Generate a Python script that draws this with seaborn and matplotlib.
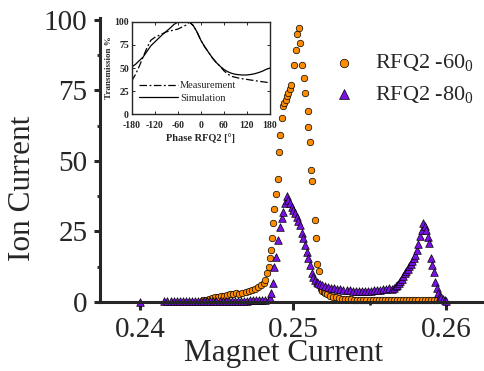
import numpy as np
import pandas as pd
import seaborn as sns
import matplotlib.pyplot as plt
from matplotlib.ticker import MultipleLocator

# RFQ2 -60 scan (orange circles)
mag_60 = [0.2441, 0.2443, 0.2445, 0.2447, 0.2449, 0.2451, 0.2453, 0.2455, 0.2457, 0.2459,
          0.2461, 0.2463, 0.2465, 0.2467, 0.2469, 0.2471, 0.2473, 0.2475, 0.2477, 0.2479,
          0.2481, 0.24819, 0.24828, 0.24841, 0.2485, 0.24856, 0.24861, 0.24867, 0.24878, 0.24889,
          0.2490, 0.24908, 0.24917, 0.24926, 0.24935, 0.24943, 0.24952, 0.24961, 0.24969, 0.24978,
          0.24987, 0.25007, 0.2502, 0.25028, 0.25039, 0.25048, 0.25057, 0.2507, 0.25078, 0.25096,
          0.2510, 0.25109, 0.25118, 0.25127, 0.25142, 0.25153, 0.25159, 0.25172, 0.2518, 0.2519,
          0.2520, 0.2521, 0.2522, 0.2524, 0.2526, 0.2528, 0.2530, 0.2532, 0.2534, 0.2536,
          0.2538, 0.2540, 0.2542, 0.2544, 0.2546, 0.2548, 0.2550, 0.2552, 0.2554, 0.2556,
          0.2558, 0.2560, 0.2562, 0.2564, 0.2566, 0.2568, 0.2570, 0.2572, 0.2574, 0.2576,
          0.2578, 0.2580, 0.2582, 0.2584, 0.2586, 0.2588, 0.2590, 0.2592, 0.2594]
ion_60 = [0.6, 0.8, 1.0, 1.4, 1.7, 1.9, 2.1, 2.3, 2.6, 2.8,
          3.0, 3.2, 2.8, 3.1, 3.4, 3.8, 4.2, 4.6, 5.4, 6.0,
          6.8, 7.8, 10.2, 12.5, 15.5, 18.4, 22.8, 27.9, 32.9, 38.4,
          43.5, 53.0, 59.2, 65.1, 69.3, 70.5, 71.6, 72.8, 74.0, 75.4,
          77.0, 84.0, 89.2, 94.8, 96.9, 91.7, 84.0, 79.2, 74.0, 67.7,
          62.0, 56.5, 46.8, 42.7, 29.1, 22.5, 13.5, 11.1, 4.6, 4.0,
          3.5, 3.1, 2.8, 2.3, 1.9, 1.6, 1.3, 1.1, 1.0, 0.9,
          0.9, 0.8, 0.8, 0.8, 0.8, 0.8, 0.7, 0.8, 0.8, 0.8,
          0.8, 0.7, 0.8, 0.8, 0.8, 0.8, 0.8, 0.8, 0.8, 0.8,
          0.8, 0.8, 0.8, 0.8, 0.8, 0.8, 0.7, 0.7, 0.7]

# RFQ2 -80 scan (purple triangles)
mag_80 = [0.2400,
          0.2416, 0.2418, 0.2420, 0.2422, 0.2424, 0.2426, 0.2428, 0.2430, 0.2432, 0.2434,
          0.2436, 0.2438, 0.2440, 0.2442, 0.2444, 0.2446, 0.2448, 0.2450, 0.2452, 0.2454,
          0.2456, 0.2458, 0.2460, 0.2462, 0.2464, 0.2466, 0.2468, 0.2470, 0.2472, 0.2474,
          0.2476, 0.2478, 0.2480, 0.2482, 0.2484,
          0.2485, 0.24856, 0.24867, 0.24878, 0.24889, 0.24904, 0.24915, 0.24926, 0.24937, 0.24948,
          0.24959, 0.2497, 0.2498, 0.24991, 0.25002, 0.25013, 0.25024, 0.25035, 0.25046, 0.25057,
          0.25067, 0.25078, 0.25089, 0.2510, 0.25111, 0.25122, 0.25133, 0.25144, 0.25155, 0.25166,
          0.25177, 0.2519, 0.2521, 0.2523, 0.2525, 0.2527, 0.2529, 0.2531, 0.2533, 0.2535,
          0.2537, 0.2539, 0.2541, 0.2543, 0.2545, 0.2547, 0.2549, 0.2551, 0.2553, 0.2555,
          0.2557, 0.2559, 0.2561, 0.2563, 0.2565, 0.2566, 0.2567, 0.2568, 0.2569, 0.2570,
          0.2571, 0.2572, 0.2573, 0.2574, 0.2575, 0.2576, 0.2577, 0.2578, 0.2579, 0.2580,
          0.2581, 0.2582, 0.2583, 0.2584, 0.2585, 0.2586, 0.2587, 0.2588, 0.2589, 0.2590,
          0.2591, 0.2592, 0.2593, 0.2594, 0.2595, 0.2596, 0.2597, 0.2598, 0.2599, 0.2600]
ion_80 = [0.0,
          0.4, 0.4, 0.4, 0.4, 0.4, 0.4, 0.4, 0.4, 0.4, 0.4,
          0.4, 0.4, 0.4, 0.4, 0.4, 0.4, 0.4, 0.5, 0.5, 0.5,
          0.5, 0.5, 0.5, 0.5, 0.5, 0.5, 0.5, 0.5, 0.6, 0.6,
          0.6, 0.6, 0.7, 0.8, 1.0,
          1.5, 3.1, 6.9, 12.5, 16.1, 22.0, 26.7, 29.6, 32.0, 35.0,
          37.4, 36.2, 35.0, 33.8, 32.6, 31.4, 30.2, 28.8, 27.3, 24.4,
          22.6, 20.2, 17.8, 15.5, 13.1, 10.2, 8.8, 7.8, 7.2, 6.8,
          6.5, 6.1, 5.6, 5.3, 5.0, 4.8, 4.6, 4.5, 4.3, 4.2,
          4.1, 4.0, 4.0, 4.0, 4.0, 4.0, 4.0, 4.0, 4.1, 4.2,
          4.3, 4.5, 4.7, 5.0, 4.6, 5.0, 5.5, 6.0, 6.8, 7.5,
          8.3, 9.2, 10.2, 11.0, 11.8, 12.6, 13.5, 14.5, 15.6, 16.8,
          18.5, 20.5, 23.2, 25.5, 27.9, 26.8, 25.5, 23.0, 21.0, 15.5,
          13.0, 10.5, 7.2, 5.0, 3.2, 2.2, 1.6, 1.1, 0.8, 0.5]

# inset: transmission vs RFQ2 phase
phase = [-180, -170, -160, -150, -140, -130, -120, -110, -100, -90, -80, -70, -60,
         -50, -40, -30, -20, -10, 0, 10, 20, 30, 40, 50, 60, 70, 80, 90, 100,
         110, 120, 130, 140, 150, 160, 170, 180]
measurement = [36, 43, 52, 62, 72, 80, 83, 85, 87, 89, 90, 91, 92,
               94, 96, 99.5, 96, 89, 80, 73, 67, 61, 56, 52, 47, 43.5, 41, 40, 39,
               38.3, 37.7, 37, 36.5, 35.7, 35.2, 34.6, 34]
simulation = [51, 54, 58, 62, 68, 74, 78, 82, 86, 89.5, 93, 97, 99.5,
              100, 100, 100, 96, 89, 80, 73, 67, 61, 56, 52, 48.5, 46, 44.3, 43.2, 42.7,
              42.4, 42.5, 43, 43.8, 45, 46.5, 48.5, 50]

sns.set_style("ticks")
plt.rcParams["font.family"] = ["Liberation Serif", "DejaVu Serif"]
plt.rcParams["mathtext.fontset"] = "custom"
plt.rcParams["mathtext.rm"] = "Liberation Serif"
plt.rcParams["axes.unicode_minus"] = False

df60 = pd.DataFrame({"mag": mag_60, "ion": ion_60})
df80 = pd.DataFrame({"mag": mag_80, "ion": ion_80})

fig = plt.figure(figsize=(4.84, 3.71), dpi=100)
ax = fig.add_axes([0.2066, 0.186, 0.7934, 0.7655])

sns.scatterplot(data=df60, x="mag", y="ion", ax=ax, marker="o", s=22, color="#ff8c00",
                edgecolor="black", linewidth=0.5, clip_on=False, label="RFQ2 -60$_0$")
sns.scatterplot(data=df80, x="mag", y="ion", ax=ax, marker="^", s=30, color="#7a10e6",
                edgecolor="black", linewidth=0.5, clip_on=False, label="RFQ2 -80$_0$")

ax.set_xlim(0.23739, 0.26248)
ax.set_ylim(0, 100.6)
ax.set_xticks([0.24, 0.25, 0.26])
ax.set_xticklabels(["0.24", "0.25", "0.26"])
ax.set_yticks([0, 25, 50, 75, 100])
ax.xaxis.set_minor_locator(MultipleLocator(0.005))
ax.yaxis.set_minor_locator(MultipleLocator(12.5))
sns.despine(ax=ax)
for s in ["left", "bottom"]:
    ax.spines[s].set_linewidth(2.2)
ax.tick_params(axis="both", which="major", labelsize=21, width=2.2, direction="out")
ax.tick_params(axis="y", which="major", length=4, pad=5)
ax.tick_params(axis="x", which="major", length=6, pad=5)
ax.tick_params(axis="both", which="minor", length=2.5, width=2)
ax.set_xlabel("Magnet Current", fontsize=22.5)
ax.set_ylabel("Ion Current", fontsize=22.5)
ax.xaxis.set_label_coords(0.477, -0.13)
ax.yaxis.set_label_coords(-0.165, 0.40)

leg = ax.legend(loc="upper left", bbox_to_anchor=(0.555, 0.91), frameon=False, fontsize=16,
                handletextpad=0.4, labelspacing=0.45, markerscale=1.3, borderaxespad=0)

# inset
axin = fig.add_axes([0.272, 0.6919, 0.2858, 0.2496])
sns.lineplot(x=phase, y=measurement, ax=axin, color="black", linewidth=0.9,
             label="Measurement", dashes=False)
axin.lines[-1].set_dashes([6, 2, 1.5, 2])
sns.lineplot(x=phase, y=simulation, ax=axin, color="black", linewidth=0.9,
             label="Simulation")
axin.set_xlim(-180, 180)
axin.set_ylim(0, 100)
axin.set_xticks(range(-180, 181, 60))
axin.set_yticks([0, 25, 50, 75, 100])
for s in axin.spines.values():
    s.set_linewidth(1.0)
axin.tick_params(direction="in", top=True, right=True, length=2.5, width=0.7,
                 labelsize=7, pad=2)
axin.tick_params(axis="x", pad=5)
for lab in axin.get_xticklabels() + axin.get_yticklabels():
    lab.set_fontweight("bold")
axin.set_xlabel("Phase RFQ2 [°]", fontsize=7.5, fontweight="bold", labelpad=2)
axin.set_ylabel("Transmission %", fontsize=6.5, fontweight="bold", labelpad=1)
axin.legend(loc="lower left", bbox_to_anchor=(0.02, 0.08), frameon=False, fontsize=7.5,
            handlelength=3.8, handletextpad=0.2, labelspacing=0.3, borderaxespad=0)

fig.savefig("out.png", dpi=100)
